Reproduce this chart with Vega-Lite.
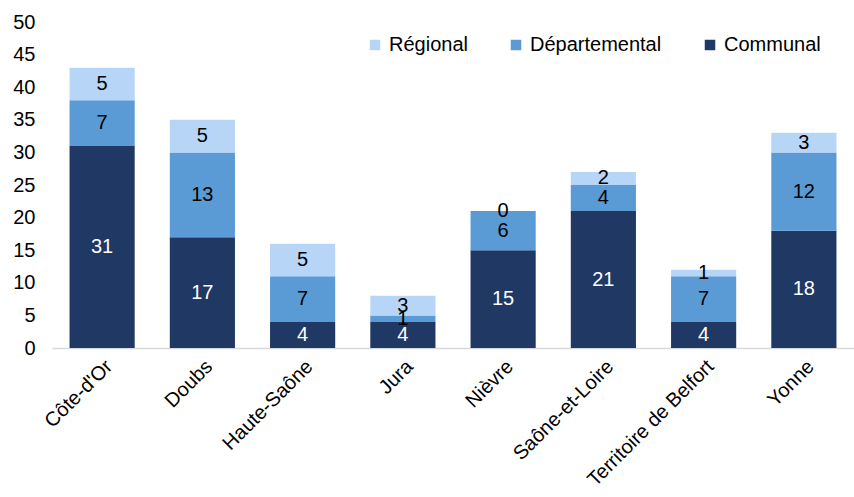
{
  "$schema": "https://vega.github.io/schema/vega-lite/v6.json",
  "autosize": {"type": "none"},
  "padding": {"left": 52, "top": 22, "right": 0, "bottom": 149},
  "width": 802,
  "height": 326,
  "config": {
    "font": "Liberation Sans",
    "view": {"stroke": null},
    "axis": {"labelFont": "Liberation Sans", "labelFontSize": 20, "labelColor": "#000000", "title": null}
  },
  "data": {
    "values": [
      {"dep": "Côte-d'Or", "type": "Communal", "ord": 1, "n": 31},
      {"dep": "Côte-d'Or", "type": "Départemental", "ord": 2, "n": 7},
      {"dep": "Côte-d'Or", "type": "Régional", "ord": 3, "n": 5},
      {"dep": "Doubs", "type": "Communal", "ord": 1, "n": 17},
      {"dep": "Doubs", "type": "Départemental", "ord": 2, "n": 13},
      {"dep": "Doubs", "type": "Régional", "ord": 3, "n": 5},
      {"dep": "Haute-Saône", "type": "Communal", "ord": 1, "n": 4},
      {"dep": "Haute-Saône", "type": "Départemental", "ord": 2, "n": 7},
      {"dep": "Haute-Saône", "type": "Régional", "ord": 3, "n": 5},
      {"dep": "Jura", "type": "Communal", "ord": 1, "n": 4},
      {"dep": "Jura", "type": "Départemental", "ord": 2, "n": 1},
      {"dep": "Jura", "type": "Régional", "ord": 3, "n": 3},
      {"dep": "Nièvre", "type": "Communal", "ord": 1, "n": 15},
      {"dep": "Nièvre", "type": "Départemental", "ord": 2, "n": 6},
      {"dep": "Nièvre", "type": "Régional", "ord": 3, "n": 0},
      {"dep": "Saône-et-Loire", "type": "Communal", "ord": 1, "n": 21},
      {"dep": "Saône-et-Loire", "type": "Départemental", "ord": 2, "n": 4},
      {"dep": "Saône-et-Loire", "type": "Régional", "ord": 3, "n": 2},
      {"dep": "Territoire de Belfort", "type": "Communal", "ord": 1, "n": 4},
      {"dep": "Territoire de Belfort", "type": "Départemental", "ord": 2, "n": 7},
      {"dep": "Territoire de Belfort", "type": "Régional", "ord": 3, "n": 1},
      {"dep": "Yonne", "type": "Communal", "ord": 1, "n": 18},
      {"dep": "Yonne", "type": "Départemental", "ord": 2, "n": 12},
      {"dep": "Yonne", "type": "Régional", "ord": 3, "n": 3}
    ]
  },
  "transform": [
    {"stack": "n", "groupby": ["dep"], "sort": [{"field": "ord", "order": "ascending"}], "as": ["y0", "y1"]},
    {"calculate": "(datum.y0 + datum.y1) / 2", "as": "ymid"}
  ],
  "encoding": {
    "x": {
      "field": "dep", "type": "nominal", "sort": null,
      "scale": {"paddingInner": 0.35, "paddingOuter": 0.175},
      "axis": {"labelAngle": -45, "labelAlign": "right", "labelBaseline": "top", "ticks": false, "domainColor": "#D9D9D9", "domainWidth": 1.5, "labelPadding": 8, "labelOverlap": false}
    }
  },
  "layer": [
    {
      "mark": {"type": "bar", "strokeWidth": 0},
      "encoding": {
        "y": {"field": "y0", "type": "quantitative", "scale": {"domain": [0, 50]},
          "axis": {"values": [0, 5, 10, 15, 20, 25, 30, 35, 40, 45, 50], "labelOverlap": false, "domain": false, "ticks": false, "grid": false, "labelPadding": 17}},
        "y2": {"field": "y1"},
        "color": {
          "field": "type", "type": "nominal",
          "scale": {"domain": ["Régional", "Départemental", "Communal"], "range": ["#B7D5F7", "#5B9BD5", "#203864"]},
          "legend": {
            "title": null, "orient": "none", "direction": "horizontal",
            "legendX": 313, "legendY": 13,
            "symbolType": "square", "symbolSize": 110, "symbolOpacity": 1, "symbolStrokeWidth": 0,
            "labelFontSize": 20, "labelFont": "Liberation Sans", "labelColor": "#000000",
            "labelOffset": 4, "columnPadding": 38
          }
        }
      }
    },
    {
      "mark": {"type": "text", "fontSize": 20, "font": "Liberation Sans", "baseline": "middle", "align": "center"},
      "encoding": {
        "y": {"field": "ymid", "type": "quantitative",
          "axis": {"values": [0, 5, 10, 15, 20, 25, 30, 35, 40, 45, 50], "labelOverlap": false, "domain": false, "ticks": false, "grid": false, "labelPadding": 17}},
        "text": {"field": "n", "type": "quantitative"},
        "color": {
          "condition": {"test": "datum.type === 'Communal'", "value": "#ffffff"},
          "value": "#000000"
        }
      }
    }
  ]
}
